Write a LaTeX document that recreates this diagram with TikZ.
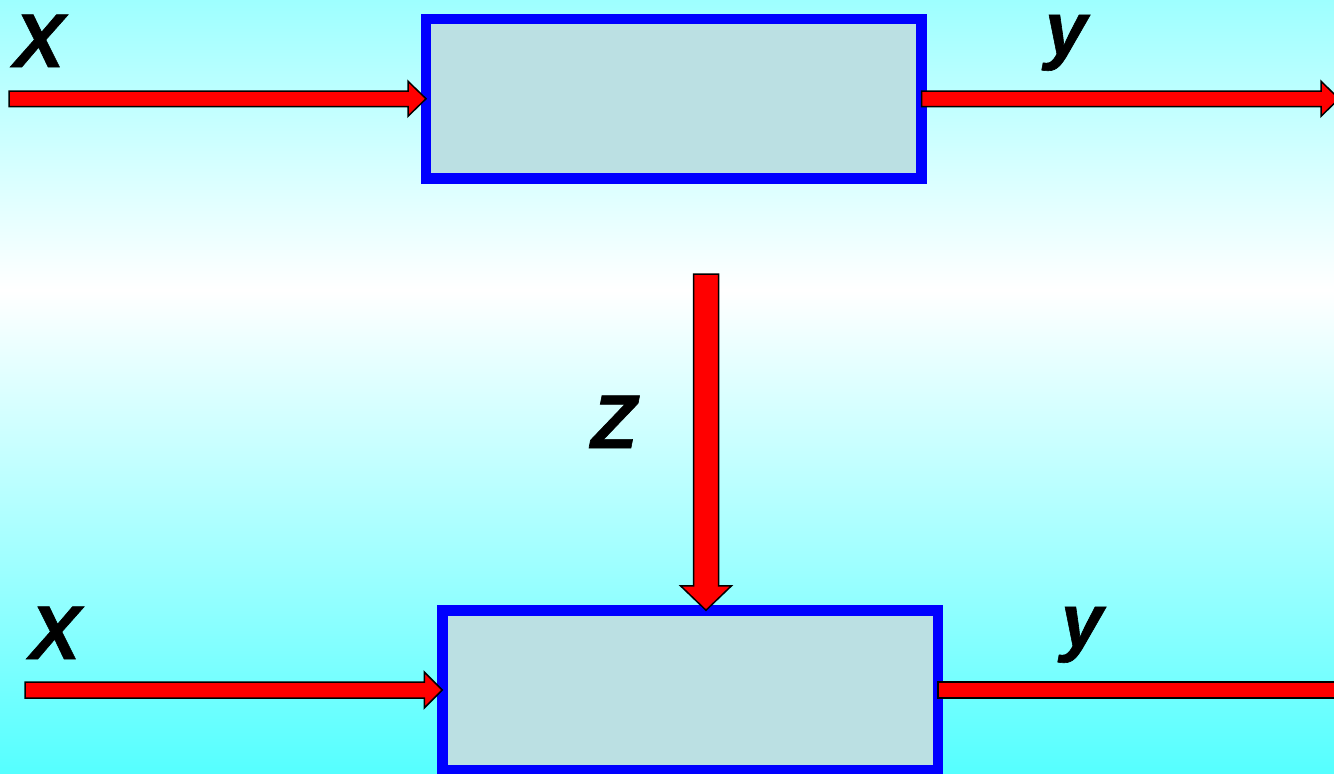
\documentclass[tikz,border=0pt]{standalone}
\usepackage{fontspec}
\setmainfont{Liberation Sans}
\newfontface\lblfont[FakeBold=0.8]{Liberation Sans Bold Italic}
\usetikzlibrary{calc}
\definecolor{bgtop}{RGB}{158,255,255}
\definecolor{bgbot}{RGB}{85,255,255}
\definecolor{boxfill}{RGB}{187,224,227}
\definecolor{boxline}{RGB}{0,0,255}
\tikzset{
  blockbox/.style={rectangle,draw=boxline,fill=boxfill,line width=10.5pt,inner sep=0pt,outer sep=0pt,minimum width=495.5pt,minimum height=159.5pt},
  arrowbody/.style={fill=red,draw=black,line width=1.5pt,line join=miter},
  lbl/.style={font=\lblfont\fontsize{76}{76}\selectfont,anchor=base,inner sep=0pt}
}
% #1 from, #2 to, #3 half shaft, #4 half head, #5 head length
\newcommand\blockarrow[5]{%
  \path ($(#2)!#5!(#1)$) coordinate (hb);
  \filldraw[arrowbody] ($(#1)!#3!90:(#2)$) -- ($(hb)!#3!90:(#2)$) -- ($(hb)!#4!90:(#2)$) -- (#2)
     -- ($(hb)!#4!-90:(#2)$) -- ($(hb)!#3!-90:(#2)$) -- ($(#1)!#3!-90:(#2)$) -- cycle;}
\newcommand\blockshaft[3]{%
  \filldraw[arrowbody] ($(#1)!#3!90:(#2)$) -- ($(#2)!#3!-90:(#1)$) -- ($(#2)!#3!90:(#1)$) -- ($(#1)!#3!-90:(#2)$) -- cycle;}
\begin{document}
\begin{tikzpicture}[x=1pt,y=-1pt]
\useasboundingbox (0,0) rectangle (1334,774);
\shade[top color=bgtop,bottom color=white] (0,0) rectangle (1334,290);
\shade[top color=white,bottom color=bgbot] (0,290) rectangle (1334,774);

\node[blockbox] (b1) at (673.75,98.75) {};
\node[blockbox] (b2) at (690,690) {};

\coordinate (x1) at (9,98.75);
\coordinate (y1) at (1339,98.75);
\coordinate (x2) at (25,690);
\coordinate (y2) at (1345,690);
\coordinate (zs) at (706,274);
\coordinate (ze) at (zs |- b2.north);

\blockarrow{x1}{b1.west}{7.75pt}{17.5pt}{18pt}
\blockarrow{b1.east}{y1}{7.75pt}{17.5pt}{18pt}
\blockarrow{x2}{b2.west}{8pt}{18pt}{18pt}
\blockshaft{b2.east}{y2}{8pt}
\blockarrow{zs}{ze}{12.5pt}{25.5pt}{24.5pt}

\node[lbl] (lx1) at (39,67) {X};
\node[lbl] (ly1) at (1066,55) {y};
\node[lbl] (lz) at (614,448) {Z};
\node[lbl] (lx2) at (55,659) {X};
\node[lbl] (ly2) at (1082,647) {y};
\end{tikzpicture}
\end{document}
